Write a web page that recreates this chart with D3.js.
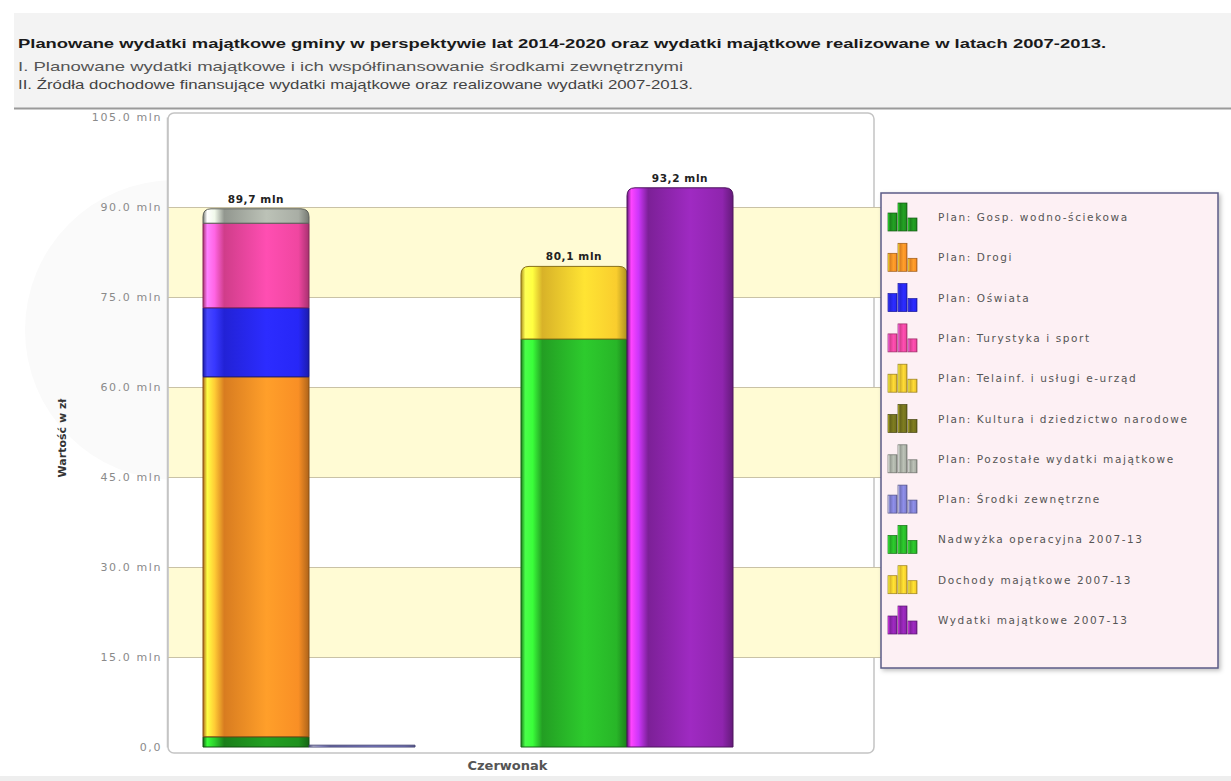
<!DOCTYPE html>
<html>
<head>
<meta charset="utf-8">
<script src="https://cdn.jsdelivr.net/npm/d3@7"></script>
<style>
  body { margin: 0; background: #fff; }
  svg { display: block; }
</style>
</head>
<body>
<svg id="chart" width="1231" height="781"></svg>
<script>
// dane wykresu
var categories = ["Czerwonak"]
var seriesNames = [
    "Plan: Gosp. wodno-ściekowa",
    "Plan: Drogi",
    "Plan: Oświata",
    "Plan: Turystyka i sport",
    "Plan: Telainf. i usługi e-urząd",
    "Plan: Kultura i dziedzictwo narodowe",
    "Plan: Pozostałe wydatki majątkowe",
    "Plan: Środki zewnętrzne",
    "Nadwyżka operacyjna 2007-13",
    "Dochody majątkowe 2007-13",
    "Wydatki majątkowe 2007-13"
]
var seriesValues = [1.7, 60.0, 11.5, 14.1, 0, 0, 2.4, 0.3, 68.0, 12.1, 93.2]
var seriesStack = [0, 0, 0, 0, 0, 0, 0, 1, 3, 3, 4]
var seriesColors = ["#1e8c1e", "#f08a24", "#2626ee", "#e8449a", "#e6bf2e", "#6e6c1c", "#a3a89f", "#7c7ccc", "#27b027", "#f0c62c", "#8a24a8"]
var stackSlots = [0, 1, 2, 3, 4]
var yTicks = [0, 15, 30, 45, 60, 75, 90, 105]

var title = "Planowane wydatki majątkowe gminy w perspektywie lat 2014-2020 oraz wydatki majątkowe realizowane w latach 2007-2013."
var sub1 = "I. Planowane wydatki majątkowe i ich współfinansowanie środkami zewnętrznymi"
var sub2 = "II. Źródła dochodowe finansujące wydatki majątkowe oraz realizowane wydatki 2007-2013."

var svg = d3.select("#chart")
var defs = svg.append("defs")

// naglowek
svg.append("rect").attr("x", 14).attr("y", 13).attr("width", 1217).attr("height", 95).attr("fill", "#f3f3f3")
svg.append("line").attr("x1", 14).attr("x2", 1231).attr("y1", 108.5).attr("y2", 108.5).attr("stroke", "#9a9a9a").attr("stroke-width", 2)
svg.append("rect").attr("x", 0).attr("y", 776).attr("width", 1231).attr("height", 5).attr("fill", "#eeeeee")

svg.append("text").attr("x", 18).attr("y", 48).text(title)
    .attr("font-family", "Liberation Sans, Arial").attr("font-weight", "bold").attr("font-size", 13.5)
    .attr("fill", "#1a1a1a").attr("textLength", 1088).attr("lengthAdjust", "spacingAndGlyphs")
svg.append("text").attr("x", 18).attr("y", 71).text(sub1)
    .attr("font-family", "Liberation Sans, Arial").attr("font-size", 13.5)
    .attr("fill", "#555").attr("textLength", 665).attr("lengthAdjust", "spacingAndGlyphs")
svg.append("text").attr("x", 18).attr("y", 89).text(sub2)
    .attr("font-family", "Liberation Sans, Arial").attr("font-size", 13.5)
    .attr("fill", "#444").attr("textLength", 675).attr("lengthAdjust", "spacingAndGlyphs")

// blady okrag w tle
svg.append("clipPath").attr("id", "leftclip").append("rect").attr("x", 0).attr("y", 110).attr("width", 168).attr("height", 660)
svg.append("circle").attr("cx", 175).attr("cy", 330).attr("r", 150)
    .attr("fill", "#fafafa").attr("clip-path", "url(#leftclip)")

var y = d3.scaleLinear().domain([0, 105]).range([747, 117])
var x = d3.scaleBand().domain(stackSlots).range([203, 733]).padding(0)
var xc = d3.scaleBand().domain(categories).range([140, 875])

// panel wykresu
var shadow = defs.append("filter").attr("id", "shadow").attr("x", "-5%").attr("y", "-5%").attr("width", "110%").attr("height", "110%")
shadow.append("feDropShadow").attr("dx", 2).attr("dy", 2).attr("stdDeviation", 2).attr("flood-color", "#000").attr("flood-opacity", 0.25)

svg.append("rect").attr("x", 168).attr("y", 113).attr("width", 706).attr("height", 640).attr("rx", 6)
    .attr("fill", "#fff").attr("stroke", "#c4c4c4").attr("stroke-width", 1.5)

// pasy
var bands = d3.pairs(yTicks).filter(function(p, i){ return i % 2 == 1 && i < 6 })
svg.selectAll(".band").data(bands).enter().append("rect")
    .attr("class", "band")
    .attr("x", 169).attr("width", 712)
    .attr("y", function(d){ return y(d[1]) })
    .attr("height", function(d){ return y(d[0]) - y(d[1]) })
    .attr("fill", "#fffbd4")

svg.selectAll(".grid").data(yTicks.slice(1, 7)).enter().append("line")
    .attr("class", "grid")
    .attr("x1", 168).attr("x2", 881)
    .attr("y1", function(d){ return Math.round(y(d)) + 0.5 })
    .attr("y2", function(d){ return Math.round(y(d)) + 0.5 })
    .attr("stroke", "#c9c2a6").attr("stroke-width", 1)

// os Y
var yAxis = d3.axisLeft(y).tickValues(yTicks).tickSize(0).tickPadding(5)
    .tickFormat(function(d){ return d == 0 ? "0,0" : d.toFixed(1) + " mln" })
var gy = svg.append("g").attr("transform", "translate(167,0)").call(yAxis)
gy.select(".domain").attr("stroke", "#c4c4c4").attr("stroke-width", 1.5)
gy.selectAll("text").attr("font-family", "DejaVu Sans, Verdana").attr("font-size", 11)
    .attr("letter-spacing", 1.6).attr("fill", "#8a8a8a")

svg.append("text")
    .attr("transform", "translate(66,438) rotate(-90)")
    .attr("text-anchor", "middle")
    .attr("font-family", "DejaVu Sans, Verdana").attr("font-size", 11).attr("font-weight", "bold")
    .attr("fill", "#333").text("Wartość w zł")

svg.append("text").attr("x", xc("Czerwonak") + xc.bandwidth() / 2).attr("y", 770)
    .attr("text-anchor", "middle")
    .attr("font-family", "DejaVu Sans, Verdana").attr("font-size", 13).attr("font-weight", "bold")
    .attr("fill", "#555").text("Czerwonak")

// gradienty
seriesColors.forEach(function(c, i){
    var base = d3.color(c)
    var g = defs.append("linearGradient").attr("id", "grad" + i).attr("x1", 0).attr("x2", 1).attr("y1", 0).attr("y2", 0)
    var stops = [
        [0, base.darker(0.9)],
        [0.04, base.brighter(1.8)],
        [0.11, base.brighter(1.1)],
        [0.2, base.darker(0.3)],
        [0.6, base.brighter(0.4)],
        [0.9, base.brighter(0.1)],
        [1, base.darker(0.9)]
    ]
    stops.forEach(function(s){
        g.append("stop").attr("offset", s[0]).attr("stop-color", s[1].formatHex())
    })
})

// segmenty slupkow
var segments = []
var stackTops = {}
seriesValues.forEach(function(v, i){
    var s = seriesStack[i]
    var base = stackTops[s] || 0
    if (v > 0) segments.push({ series: i, stack: s, y0: base, y1: base + v })
    stackTops[s] = base + v
})
segments.forEach(function(seg){
    seg.top = seg.y1 == stackTops[seg.stack]
})

function segPath(d){
    var x0 = x(d.stack), x1 = x0 + x.bandwidth()
    var yt = y(d.y1), yb = y(d.y0)
    var r = d.top ? Math.min(8, yb - yt) : 0
    if (r < 2) r = 0
    return "M" + x0 + "," + yb + "L" + x0 + "," + (yt + r) +
        "Q" + x0 + "," + yt + " " + (x0 + r) + "," + yt +
        "L" + (x1 - r) + "," + yt +
        "Q" + x1 + "," + yt + " " + x1 + "," + (yt + r) +
        "L" + x1 + "," + yb + "Z"
}

svg.selectAll(".seg").data(segments).enter().append("path")
    .attr("class", "seg")
    .attr("d", segPath)
    .attr("fill", function(d){ return "url(#grad" + d.series + ")" })
    .attr("stroke", function(d){ return d3.color(seriesColors[d.series]).darker(1.6).formatHex() })
    .attr("stroke-width", 1)

// sumy nad slupkami
var totals = [0, 3, 4].map(function(s){ return { stack: s, value: stackTops[s] } })
svg.selectAll(".total").data(totals).enter().append("text")
    .attr("class", "total")
    .attr("x", function(d){ return x(d.stack) + x.bandwidth() / 2 })
    .attr("y", function(d){ return y(d.value) - 6 })
    .attr("text-anchor", "middle")
    .attr("font-family", "DejaVu Sans, Verdana").attr("font-size", 10.5).attr("font-weight", "bold")
    .attr("letter-spacing", 0.6)
    .attr("fill", "#222")
    .text(function(d){ return d.value.toFixed(1).replace(".", ",") + " mln" })

// legenda
var lg = svg.append("g")
lg.append("rect").attr("x", 881).attr("y", 193).attr("width", 337).attr("height", 475)
    .attr("fill", "#fdf0f4").attr("stroke", "#5b5b86").attr("stroke-width", 1.5)
    .attr("filter", "url(#shadow)")

var ly = d3.scalePoint().domain(d3.range(seriesNames.length)).range([217, 620])
var items = lg.selectAll(".item").data(seriesNames).enter().append("g")
    .attr("class", "item")
    .attr("transform", function(d, i){ return "translate(0," + ly(i) + ")" })

var iconBars = [[888, 18], [898, 28], [908, 13]]
items.each(function(d, i){
    var g = d3.select(this)
    iconBars.forEach(function(b){
        g.append("rect").attr("x", b[0]).attr("y", 14 - b[1]).attr("width", 9).attr("height", b[1])
            .attr("fill", "url(#grad" + i + ")")
            .attr("stroke", d3.color(seriesColors[i]).darker(1.2).formatHex()).attr("stroke-width", 0.7)
    })
})
items.append("text").attr("x", 938).attr("y", 4)
    .attr("font-family", "DejaVu Sans, Verdana").attr("font-size", 10.5).attr("letter-spacing", 1.6)
    .attr("fill", "#555")
    .text(function(d){ return d })
</script>
</body>
</html>
